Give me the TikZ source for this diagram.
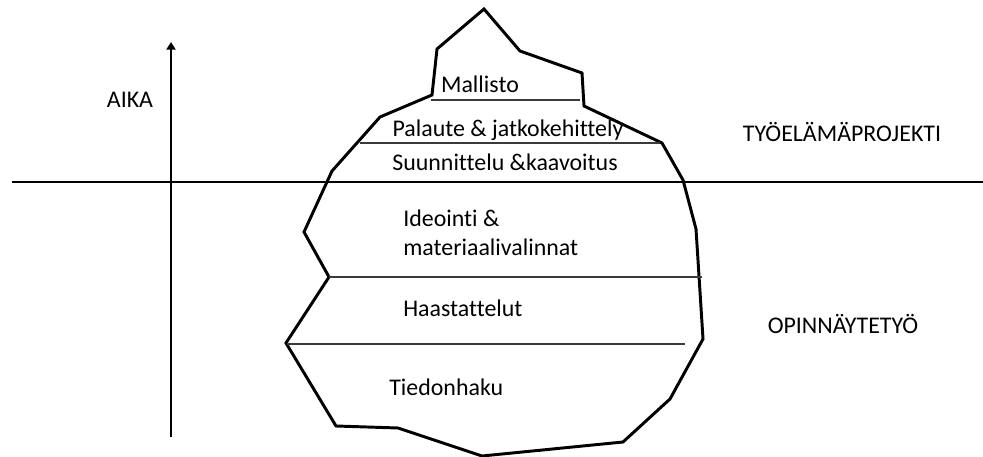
\documentclass[tikz,border=0pt]{standalone}
\usepackage{fontspec}
\setmainfont{Carlito}[Ligatures=NoCommon]
\usepackage{tikz}
\usetikzlibrary{arrows.meta}
\definecolor{ink}{HTML}{000000}
\definecolor{rule}{HTML}{3A3A3A}

\begin{document}
\begin{tikzpicture}[x=0.025cm, y=-0.025cm, font=\fontsize{17}{20}\selectfont,
  berg/.style={draw=ink, line width=2.1pt, line join=miter},
  layer/.style={draw=rule, line width=0.8pt},
  label/.style={inner sep=0pt, text=ink}]
\useasboundingbox (0,0) rectangle (983,457);
% waterline and time axis
\coordinate (wl0) at (12,182);
\coordinate (wl1) at (983,182);
\coordinate (ax0) at (171,437);
\coordinate (ax1) at (171,42);
\draw[berg] (wl0) -- (wl1);
\draw[berg, -{Triangle[length=5.5pt, width=6.5pt]}] (ax0) -- (ax1);
% iceberg
\draw[berg] (484,9) -- (520,51) -- (582,73) -- (584,106) -- (662,143) -- (683,180)
  -- (696,229) -- (703,339) -- (670,399) -- (623,442) -- (482,456) -- (398,428)
  -- (336,426) -- (286,343) -- (329,277) -- (304,232) -- (332,171) -- (380,117)
  -- (432,95) -- (437,49) -- cycle;
\foreach \ya/\xa/\xb in {100/431/580, 143/360/660, 277/329/702, 344/287/685}
  \draw[layer] (\xa,\ya) -- (\xb,\ya);
% labels
\node[label, anchor=base] (aika) at (130,108) {AIKA};
\node[label, anchor=base] (tyo) at (842,142) {TYÖELÄMÄPROJEKTI};
\node[label, anchor=base] (opin) at (843,333) {OPINNÄYTETYÖ};
\node[label, anchor=base] (mallisto) at (480,93) {Mallisto};
\node[label, anchor=base] (palaute) at (508,137) {Palaute \& jatkokehittely};
\node[label, anchor=base] (suunn) at (505,171) {Suunnittelu \&kaavoitus};
\node[label, anchor=base west] (ideo) at (403,227) {Ideointi \&};
\node[label, anchor=base west] (mater) at (403,256) {materiaalivalinnat};
\node[label, anchor=base west] (haast) at (403,317) {Haastattelut};
\node[label, anchor=base west] (tiedon) at (389,395) {Tiedonhaku};
\end{tikzpicture}
\end{document}
